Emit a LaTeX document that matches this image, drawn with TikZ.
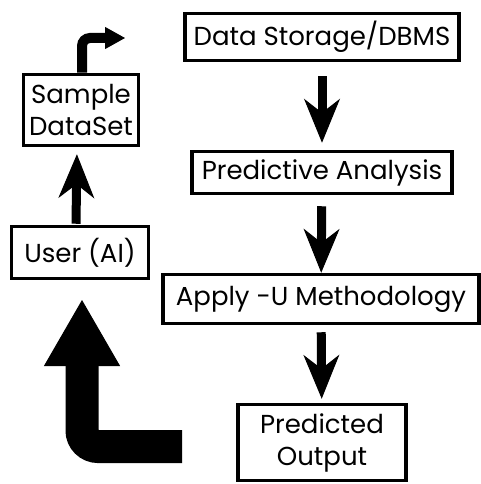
\documentclass[tikz,border=0pt]{standalone}
\usepackage{fontspec}
\setmainfont{Poppins}
\usetikzlibrary{arrows.meta}

\begin{document}
\begin{tikzpicture}[x=1pt,y=-1pt,
	box/.style={draw,line width=3.5pt,align=center,inner sep=0pt,font=\fontsize{26}{32}\selectfont},
	flow/.style={line width=9pt,-{Stealth[length=44pt,width=36pt,inset=14pt,line width=1pt]}},
	bendarrow/.style={line width=10pt,rounded corners=8pt,-{Triangle[length=20pt,width=22pt,line width=1pt]}},
	looparrow/.style={line width=33pt,rounded corners=16pt,-{Triangle[length=66pt,width=76pt,line width=1pt]}}]
	\useasboundingbox (0,0) rectangle (481,484);

	% the main chain
	\node[box,minimum width=274pt,minimum height=47pt] (dbms) at (322,37) {Data Storage/DBMS};
	\node[box,minimum width=260pt,minimum height=42pt] (pred) at (322,172.5) {Predictive Analysis};
	\node[box,minimum width=316pt,minimum height=49pt] (apply) at (321,299) {Apply -U Methodology};
	\node[box,minimum width=168pt,minimum height=76pt] (out) at (322,442.5) {Predicted\\Output};

	% the user side
	\node[box,minimum width=115pt,minimum height=71pt] (sample) at (81,110) {Sample\\DataSet};
	\node[box,minimum width=137pt,minimum height=52pt] (user) at (80,252.5) {User (AI)};

	\coordinate (bendtip) at (125,38);
	\coordinate (loopstart) at (182,446.5);
	\coordinate (looptip) at (82,300);

	\draw[flow,shorten <=14pt,shorten >=7pt] (dbms) -- (pred);
	\draw[flow,shorten <=11pt,shorten >=0pt] (pred) -- (apply);
	\draw[flow,shorten <=7pt,shorten >=4pt] (apply) -- (out);
	\draw[flow,shorten <=1pt,shorten >=7pt] ([xshift=-4pt]user.north) -- ([xshift=-4pt]sample.south);
	\draw[bendarrow] ([xshift=1pt]sample.north) |- (bendtip);
	\draw[looparrow] (loopstart) -| (looptip);
\end{tikzpicture}
\end{document}
